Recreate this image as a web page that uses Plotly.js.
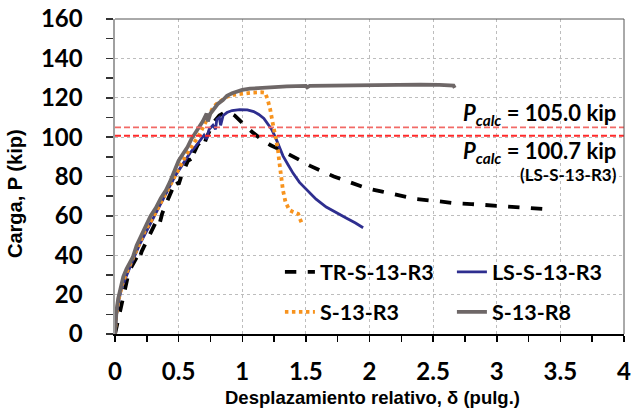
<!DOCTYPE html>
<html>
<head>
<meta charset="utf-8">
<script src="https://cdn.plot.ly/plotly-3.0.1.min.js"></script>
<style>html,body{margin:0;padding:0;background:#fff;}#chart{width:632px;height:416px;}</style>
</head>
<body>
<div id="chart"></div>
<script>
// ---- data ----
const seriesNames = ["TR-S-13-R3", "LS-S-13-R3", "S-13-R3", "S-13-R8"];

const trX = [0,0.02,0.04,0.06,0.08,0.10,0.12,0.15,0.18,0.19,0.21,0.24,0.27,0.30,0.33,0.35,0.37,0.40,0.43,0.46,0.48,0.50,0.52,0.55,0.58,0.60,0.62,0.65,0.68,0.70,0.72,0.75,0.78,0.82,0.86,0.90,0.94,0.98,1.02,1.08,1.14,1.22,1.30,1.38,1.45,1.53,1.61,1.72,1.85,1.98,2.10,2.24,2.37,2.53,2.66,2.80,2.92,3.05,3.13,3.25,3.37];
const trY = [0,6,12,18,24,29,33,37,40,38,42,46,50,54,58,56,61,66,70,75,78,76,80,85,89,87,92,96,98,96,100,104,108,111,112.5,112.5,111,108.5,106,102.5,99.4,96,93.5,91,88.4,85.5,83.3,80,77,74,72.3,70.4,68.5,67.5,66.5,66,65.5,64.8,64.3,63.8,63.5];

const lsX = [0,0.01,0.03,0.05,0.08,0.11,0.15,0.19,0.23,0.27,0.31,0.35,0.39,0.43,0.47,0.51,0.55,0.59,0.63,0.67,0.70,0.72,0.74,0.77,0.79,0.80,0.82,0.83,0.85,0.88,0.92,0.98,1.04,1.09,1.13,1.17,1.20,1.23,1.26,1.29,1.32,1.36,1.40,1.45,1.51,1.58,1.66,1.74,1.82,1.89,1.95];
const lsY = [0,9,17,23,28,33,39,45,50,55,60,65,70,75,80,84,88,92,95,98.5,101,99,104,106,104,109,110,106,111,112.5,113.5,114,113.8,113,111.5,109.5,107,104,100,95.5,90.5,86,81.6,77,73,68.5,64.5,61.5,58.8,56.4,54];

const s3X = [0,0.01,0.03,0.06,0.09,0.13,0.17,0.20,0.24,0.28,0.32,0.36,0.40,0.44,0.48,0.52,0.56,0.60,0.63,0.66,0.70,0.74,0.77,0.80,0.84,0.88,0.93,1.00,1.08,1.15,1.18,1.20,1.22,1.24,1.26,1.28,1.29,1.30,1.31,1.32,1.34,1.37,1.40,1.44,1.45,1.47];
const s3Y = [0,10,18,26,31,37,43,47,53,57,62,67,71,77,82,87,91,95,98,101,106,111,115,117,119,120.5,121.5,122.2,122.6,122.8,122.5,119,114,107,101,94,88,83,78,73,67,63,62,61,59,56];

const r8X = [0,0.005,0.012,0.025,0.045,0.065,0.09,0.12,0.14,0.17,0.21,0.25,0.28,0.32,0.36,0.40,0.43,0.47,0.50,0.53,0.57,0.60,0.63,0.66,0.69,0.72,0.73,0.75,0.78,0.81,0.85,0.88,0.92,0.96,1.00,1.06,1.15,1.25,1.35,1.50,1.51,1.53,1.70,1.85,2.00,2.20,2.40,2.55,2.63,2.66,2.67];
const r8Y = [0,6,12,18,24,29,33,37,39,45,51,56,60,64,69,73,77,83,88,91,95,99,102,105,108,112,108,112,114.5,117,119,121,122.3,123.3,124,124.6,125,125.5,125.8,126,125.3,126,126.2,126,126.3,126.5,126.7,126.5,126.6,126.2,125];

const pcalc = [105.0, 100.7];
const pcalcLabels = ["105.0", "100.7"];
const pcalcNote = "(LS-S-13-R3)";

const xTickVals = [0, 0.5, 1, 1.5, 2, 2.5, 3, 3.5, 4];
const xTickText = ["0", "0.5", "1", "1.5", "2", "2.5", "3", "3.5", "4"];
const yTickVals = [0, 20, 40, 60, 80, 100, 120, 140, 160];

const xTitle = "Desplazamiento relativo, δ (pulg.)";
const yTitle = "Carga, P (kip)";

// ---- traces ----
const traces = [
  {x: trX, y: trY, name: seriesNames[0], mode: "lines", legend: "legend",
   line: {color: "#000000", width: 3.8, dash: "dash"}},
  {x: lsX, y: lsY, name: seriesNames[1], mode: "lines", legend: "legend",
   line: {color: "#2E2E8F", width: 2.8}},
  {x: s3X, y: s3Y, name: seriesNames[2], mode: "lines", legend: "legend2",
   line: {color: "#F7931E", width: 3.8, dash: "3.5px,3.5px"}},
  {x: r8X, y: r8Y, name: seriesNames[3], mode: "lines", legend: "legend2",
   line: {color: "#6E6767", width: 3.8}},
  {x: [0, 4], y: [pcalc[0], pcalc[0]], mode: "lines", showlegend: false,
   line: {color: "#F26A66", width: 1.8, dash: "6px,3px"}},
  {x: [0, 4], y: [pcalc[1], pcalc[1]], mode: "lines", showlegend: false,
   line: {color: "#FF2A2A", width: 1.8, dash: "6px,3px"}}
];

const tickFont = {family: "Lato, 'Open Sans', sans-serif", size: 24, weight: 700, color: "#000"};
const labFont = {family: "Lato, 'Open Sans', sans-serif", size: 22, weight: 700, color: "#000"};
const legFont = {family: "Lato, 'Open Sans', sans-serif", size: 21.5, weight: 700, color: "#000"};

const layout = {
  width: 632, height: 416,
  margin: {l: 115, r: 8, t: 19, b: 82, pad: 0, autoexpand: false},
  paper_bgcolor: "#fff", plot_bgcolor: "#fff",
  showlegend: true,
  xaxis: {
    range: [0, 4], tickvals: xTickVals, ticktext: xTickText,
    showgrid: true, gridcolor: "#bdbdbd", gridwidth: 1, griddash: "dot",
    zeroline: false, showline: true, linecolor: "#000", linewidth: 2,
    ticks: "outside", ticklen: 6, tickwidth: 1.5, tickcolor: "#000",
    minor: {dtick: 0.25, tick0: 0, ticks: "outside", ticklen: 6, tickwidth: 1.5, tickcolor: "#000", showgrid: false},
    tickfont: tickFont, ticklabelstandoff: 9, fixedrange: true, automargin: false
  },
  yaxis: {
    range: [0, 160], tickvals: yTickVals,
    showgrid: true, gridcolor: "#bdbdbd", gridwidth: 1, griddash: "dot",
    zeroline: false, showline: true, linecolor: "#a0a0a0", linewidth: 2.5,
    ticks: "outside", ticklen: 7, tickwidth: 1.5, tickcolor: "#333",
    minor: {dtick: 10, tick0: 0, ticks: "outside", ticklen: 7, tickwidth: 1.5, tickcolor: "#333", showgrid: false},
    tickfont: tickFont, ticklabelstandoff: 18, fixedrange: true, automargin: false
  },
  legend: {
    orientation: "h", x: 0.324, y: 0.197, xanchor: "left", yanchor: "middle",
    bgcolor: "rgba(0,0,0,0)", font: legFont, entrywidth: 127, itemwidth: 30, traceorder: "normal"
  },
  legend2: {
    orientation: "h", x: 0.324, y: 0.07, xanchor: "left", yanchor: "middle",
    bgcolor: "rgba(0,0,0,0)", font: legFont, entrywidth: 127, itemwidth: 30, traceorder: "normal"
  },
  shapes: [
    {type: "rect", xref: "paper", yref: "paper", x0: 0.297, x1: 0.994, y0: 0.004, y1: 0.241,
     fillcolor: "#fff", line: {width: 0}, layer: "between"},
    {type: "line", xref: "paper", yref: "paper", x0: 0, x1: 1, y0: 1, y1: 1, line: {color: "#555", width: 1}},
    {type: "line", xref: "paper", yref: "paper", x0: 1, x1: 1, y0: 0, y1: 1, line: {color: "#555", width: 1}}
  ],
  annotations: [
    {xref: "paper", yref: "y", x: 0.988, y: pcalc[0] + 7, xanchor: "right", yanchor: "middle", showarrow: false,
     text: "<i>P</i><sub><i>calc</i></sub> = " + pcalcLabels[0] + " kip", font: labFont},
    {xref: "paper", yref: "y", x: 0.988, y: pcalc[1] - 8, xanchor: "right", yanchor: "middle", showarrow: false,
     text: "<i>P</i><sub><i>calc</i></sub> = " + pcalcLabels[1] + " kip", font: labFont},
    {xref: "paper", yref: "y", x: 0.99, y: pcalc[1] - 19.5, xanchor: "right", yanchor: "middle", showarrow: false,
     text: pcalcNote, font: {family: "Lato, 'Open Sans', sans-serif", size: 17, weight: 700, color: "#000"}},
    {xref: "paper", yref: "paper", x: -0.1965, y: 0.4476, xanchor: "center", yanchor: "middle", showarrow: false,
     textangle: -90, text: yTitle, font: {family: "'Liberation Sans', Arial, sans-serif", size: 20, weight: 700, color: "#000"}},
    {xref: "paper", yref: "paper", x: 0.505, y: -0.203, xanchor: "center", yanchor: "middle", showarrow: false,
     text: xTitle, font: {family: "'Liberation Sans', Arial, sans-serif", size: 18.5, weight: 700, color: "#000"}}
  ]
};

Plotly.newPlot("chart", traces, layout, {displayModeBar: false, staticPlot: true});
</script>
</body>
</html>
